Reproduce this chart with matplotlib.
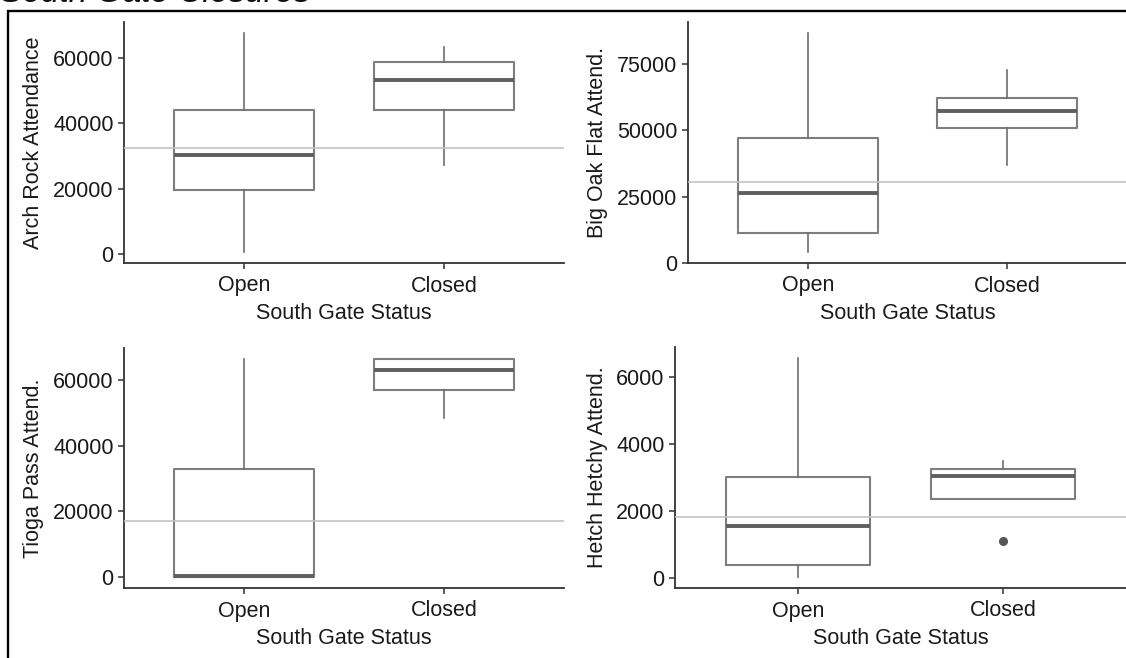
import matplotlib
matplotlib.use("Agg")
import matplotlib.pyplot as plt
from matplotlib.patches import Rectangle

plt.rcParams['font.family'] = ['Liberation Sans', 'DejaVu Sans']

categories = ["Open", "Closed"]
x_label = "South Gate Status"
title = "South Gate Closures"

# five-number summaries: [whislo, q1, med, q3, whishi]
arch_open = [600, 19600, 30400, 44000, 67600]
arch_closed = [27300, 44000, 53300, 58800, 63200]
arch_mean = 32300

bigoak_open = [4150, 11300, 26400, 47000, 86500]
bigoak_closed = [36700, 50700, 57300, 62200, 72550]
bigoak_mean = 30400

tioga_open = [0, 0, 300, 33000, 66400]
tioga_closed = [48300, 57000, 63100, 66300, 66300]
tioga_mean = 17000

hetch_open = [30, 380, 1555, 3020, 6580]
hetch_closed = [2376, 2376, 3040, 3260, 3490]
hetch_closed_outliers = [1104]
hetch_mean = 1816

panels = [
    ("Arch Rock Attendance", arch_open, arch_closed, [], arch_mean, [0, 20000, 40000, 60000],
     (124, 22, 564, 263), 44),
    ("Big Oak Flat Attend.", bigoak_open, bigoak_closed, [], bigoak_mean, [0, 25000, 50000, 75000],
     (688, 22, 1127, 263), 608),
    ("Tioga Pass Attend.", tioga_open, tioga_closed, [], tioga_mean, [0, 20000, 40000, 60000],
     (124, 348, 564, 588), 44),
    ("Hetch Hetchy Attend.", hetch_open, hetch_closed, hetch_closed_outliers, hetch_mean,
     [0, 2000, 4000, 6000], (675, 347, 1126, 588), 608),
]

W, H = 1126, 658
fig = plt.figure(figsize=(W / 100, H / 100), dpi=100)

edge = '#7e7e7e'
for ylabel, s_open, s_closed, outl, mean_v, yticks, (x0, y0, x1, y1), ylab_x in panels:
    ax = fig.add_axes([x0 / W, 1 - y1 / H, (x1 - x0) / W, (y1 - y0) / H])
    stats = []
    for lab, s, fl in [(categories[0], s_open, []), (categories[1], s_closed, outl)]:
        stats.append(dict(label=lab, whislo=s[0], q1=s[1], med=s[2], q3=s[3], whishi=s[4], fliers=fl))
    ax.bxp(stats, positions=[1, 2], widths=0.7, showcaps=False, patch_artist=False,
           boxprops=dict(color=edge, linewidth=1.5),
           whiskerprops=dict(color='#6e6e6e', linewidth=1.2),
           medianprops=dict(color='#5f5f5f', linewidth=2.8),
           flierprops=dict(marker='o', markerfacecolor='#555555', markeredgecolor='#555555',
                           markersize=5.5))
    ax.axhline(mean_v, color='#c4c4c4', linewidth=1.2, zorder=3)
    vals = s_open + s_closed + list(outl) + [mean_v]
    lo, hi = min(vals), max(vals)
    pad = 0.05 * (hi - lo)
    ax.set_ylim(lo - pad, hi + pad)
    ax.set_xlim(0.4, 2.6)
    ax.set_yticks(yticks)
    ax.set_yticklabels([str(t) for t in yticks])
    ax.set_xticks([1, 2])
    ax.set_xticklabels(categories)
    for sp in ['top', 'right']:
        ax.spines[sp].set_visible(False)
    for sp in ['left', 'bottom']:
        ax.spines[sp].set_color('#333333')
        ax.spines[sp].set_linewidth(1.3)
    ax.tick_params(axis='both', colors='#333333', length=4.5, width=1.1, labelsize=15.5,
                   labelcolor='#1a1a1a', pad=3)
    ax.tick_params(axis='x', pad=4.5)
    ax.set_xlabel(x_label, fontsize=15.5, color='#1a1a1a')
    ax.set_ylabel(ylabel, fontsize=15.5, color='#1a1a1a')
    pw, ph = (x1 - x0), (y1 - y0)
    ax.yaxis.set_label_coords((ylab_x - x0) / pw, 0.5)
    ax.xaxis.set_label_coords(0.5, -40 / ph)
    ax.set_facecolor('none')

# outer border
fig.patches.append(Rectangle((8 / W, -0.1), 1.2, 1 - 11 / H + 0.1, transform=fig.transFigure,
                             fill=False, edgecolor='black', linewidth=1.7))
fig.text(0 / W, 1 - 2.5 / H, title, fontsize=24, style='italic', va='baseline', ha='left',
         color='#111111')

fig.savefig("out.png", dpi=100)
